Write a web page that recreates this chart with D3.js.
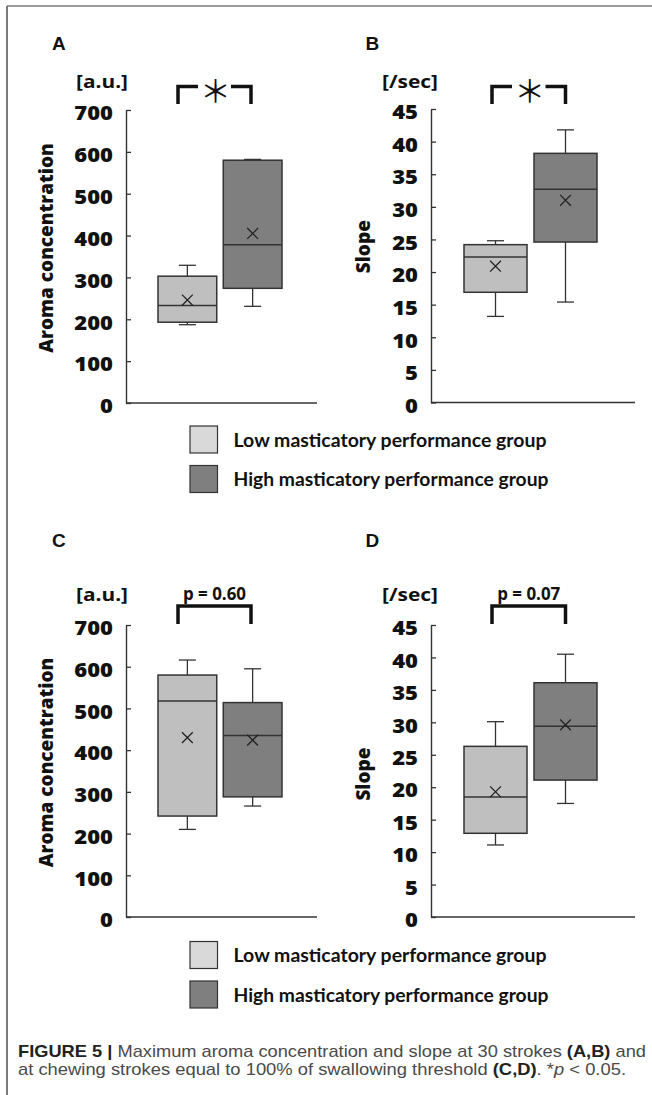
<!DOCTYPE html>
<html>
<head>
<meta charset="utf-8">
<script src="https://cdn.jsdelivr.net/npm/d3@7/dist/d3.min.js"></script>
<style>
  html, body { margin: 0; padding: 0; background: #fff; }
  svg { display: block; }
</style>
</head>
<body>
<svg id="fig" width="652" height="1095"></svg>
<script>
// ---------------- DATA ----------------
const groups = ["Low", "High"];
const legendLabels = ["Low masticatory performance group", "High masticatory performance group"];
const aromaTicks = [0, 100, 200, 300, 400, 500, 600, 700];
const slopeTicks = [0, 5, 10, 15, 20, 25, 30, 35, 40, 45];

// box statistics per group: [min, q1, median, q3, max, mean]
const aroma30Low   = [187, 193, 233, 303, 329, 246];
const aroma30High  = [231, 274, 378, 580, 582, 405];
const slope30Low   = [13.2, 16.9, 22.3, 24.2, 24.8, 20.9];
const slope30High  = [15.4, 24.6, 32.7, 38.2, 41.8, 31.0];
const aromaSTLow   = [210, 242, 518, 580, 616, 430];
const aromaSTHigh  = [266, 288, 435, 514, 595, 424];
const slopeSTLow   = [11.1, 12.9, 18.5, 26.3, 30.1, 19.3];
const slopeSTHigh  = [17.5, 21.1, 29.4, 36.1, 40.5, 29.6];

const panelLetters = ["A", "B", "C", "D"];
const units = ["[a.u.]", "[/sec]", "[a.u.]", "[/sec]"];
const axisTitles = ["Aroma concentration", "Slope", "Aroma concentration", "Slope"];
const sigLabels = ["*", "*", "p = 0.60", "p = 0.07"];

// ---------------- STYLE / LAYOUT ----------------
const fillLow = "#bfbfbf", fillHigh = "#7f7f7f";
const legendFillLow = "#d9d9d9", legendFillHigh = "#7f7f7f";
const ink = "#333";

const layouts = [
  { axisX: 126, axisR: 317, yTop: 110, yBot: 403, letter: [52, 50], unit: [76, 88, 52],
    title: [53, 248], band: [32, 156], br: [178, 251, 86.5, 104] },
  { axisX: 431, axisR: 635, yTop: 109, yBot: 402.5, letter: [365.5, 50], unit: [382, 88, 56],
    title: [370, 246.7], band: [33, 166], br: [492, 565.5, 86.5, 104] },
  { axisX: 126, axisR: 317, yTop: 625, yBot: 917, letter: [52, 547], unit: [76, 601, 52],
    title: [53, 762.5], band: [32, 156], br: [178, 251, 606, 624] },
  { axisX: 431, axisR: 635, yTop: 625, yBot: 917, letter: [365.5, 547], unit: [382, 601, 56],
    title: [370, 774], band: [33, 166], br: [492, 565.5, 606, 624] }
];

const panelData = [
  { stats: [aroma30Low, aroma30High], ticks: aromaTicks, star: true },
  { stats: [slope30Low, slope30High], ticks: slopeTicks, star: true },
  { stats: [aromaSTLow, aromaSTHigh], ticks: aromaTicks, star: false },
  { stats: [slopeSTLow, slopeSTHigh], ticks: slopeTicks, star: false }
];

const svg = d3.select("#fig");
svg.append("rect").attr("width", 652).attr("height", 1095).attr("fill", "#fff");

// frame
svg.append("line").attr("x1", 7).attr("x2", 652).attr("y1", 6).attr("y2", 6)
  .attr("stroke", "#7a7a7a").attr("stroke-width", 1.6);
svg.append("line").attr("x1", 7).attr("x2", 7).attr("y1", 6).attr("y2", 1095)
  .attr("stroke", "#7a7a7a").attr("stroke-width", 2);

const chartFont = "'Open Sans', 'Noto Sans', sans-serif";

panelData.forEach((pd, i) => {
  const L = layouts[i];
  const g = svg.append("g");
  const yMax = d3.max(pd.ticks);
  const y = d3.scaleLinear().domain([0, yMax]).range([L.yBot, L.yTop]);
  const x = d3.scaleBand().domain(groups)
    .range([L.axisX + L.band[0], L.axisX + L.band[1]]).paddingInner(0.1);
  const bw = x.bandwidth();
  const capW = 17;

  // panel letter
  g.append("text").attr("x", L.letter[0]).attr("y", L.letter[1])
    .attr("font-family", "'Liberation Sans', Arial, sans-serif").attr("font-weight", 700)
    .attr("font-size", 19).attr("fill", "#111").text(panelLetters[i]);

  // unit
  g.append("text").attr("x", L.unit[0]).attr("y", L.unit[1])
    .attr("font-family", chartFont).attr("font-weight", 700).attr("font-size", 17)
    .attr("fill", "#111").attr("textLength", L.unit[2]).attr("lengthAdjust", "spacingAndGlyphs")
    .text(units[i]);

  // axis title
  g.append("text").attr("transform", `translate(${L.title[0]},${L.title[1]}) rotate(-90)`)
    .attr("text-anchor", "middle").attr("font-family", chartFont).attr("font-weight", 800)
    .attr("font-size", 19).attr("fill", "#111").text(axisTitles[i]);

  // y axis
  const ax = g.append("g").attr("transform", `translate(${L.axisX},0)`)
    .call(d3.axisLeft(y).tickValues(pd.ticks).tickSizeInner(-5).tickSizeOuter(0).tickPadding(13));
  ax.select(".domain").attr("stroke", ink).attr("stroke-width", 1.4);
  ax.selectAll(".tick line").attr("stroke", ink).attr("stroke-width", 1.3);
  ax.selectAll(".tick text")
    .attr("font-family", chartFont).attr("font-weight", 800).attr("font-size", 19.5)
    .attr("fill", "#111").attr("dy", "0.5em")
    .attr("textLength", d => String(d).length * 12.9).attr("lengthAdjust", "spacingAndGlyphs");

  // x axis baseline
  g.append("line").attr("x1", L.axisX).attr("x2", L.axisR).attr("y1", y(0)).attr("y2", y(0))
    .attr("stroke", ink).attr("stroke-width", 1.4);

  // boxes
  groups.forEach((grp, j) => {
    const s = pd.stats[j];
    const [mn, q1, med, q3, mx, mean] = s;
    const cx = x(grp) + bw / 2;
    const bg = g.append("g");
    // whiskers
    bg.append("line").attr("x1", cx).attr("x2", cx).attr("y1", y(mx)).attr("y2", y(q3))
      .attr("stroke", ink).attr("stroke-width", 1.3);
    bg.append("line").attr("x1", cx).attr("x2", cx).attr("y1", y(q1)).attr("y2", y(mn))
      .attr("stroke", ink).attr("stroke-width", 1.3);
    [mn, mx].forEach(v => {
      bg.append("line").attr("x1", cx - capW / 2).attr("x2", cx + capW / 2)
        .attr("y1", y(v)).attr("y2", y(v)).attr("stroke", ink).attr("stroke-width", 1.3);
    });
    // box
    bg.append("rect").attr("x", x(grp)).attr("width", bw)
      .attr("y", y(q3)).attr("height", y(q1) - y(q3))
      .attr("fill", j === 0 ? fillLow : fillHigh).attr("stroke", ink).attr("stroke-width", 1.5);
    // median
    bg.append("line").attr("x1", x(grp)).attr("x2", x(grp) + bw).attr("y1", y(med)).attr("y2", y(med))
      .attr("stroke", ink).attr("stroke-width", 1.5);
    // mean marker
    const m = 5.4, my = y(mean);
    bg.append("path").attr("d", `M${cx - m},${my - m}L${cx + m},${my + m}M${cx - m},${my + m}L${cx + m},${my - m}`)
      .attr("stroke", "#222").attr("stroke-width", 1.3).attr("fill", "none");
  });

  // significance bracket
  const [bl, brx, bt, bb] = L.br;
  if (pd.star) {
    g.append("path")
      .attr("d", `M${bl},${bb}V${bt}H${bl + 20}M${brx - 20},${bt}H${brx}V${bb}`)
      .attr("stroke", "#111").attr("stroke-width", 3.5).attr("fill", "none");
    g.append("text").attr("x", (bl + brx) / 2 + 1).attr("y", bt + 15)
      .attr("text-anchor", "middle").attr("font-family", "'Noto Sans CJK JP', sans-serif")
      .attr("font-size", 31).attr("fill", "#111").text("＊");
  } else {
    g.append("path")
      .attr("d", `M${bl},${bb}V${bt}H${brx}V${bb}`)
      .attr("stroke", "#111").attr("stroke-width", 3.5).attr("fill", "none");
    g.append("text").attr("x", (bl + brx) / 2).attr("y", bt - 6)
      .attr("text-anchor", "middle").attr("font-family", chartFont).attr("font-weight", 700)
      .attr("font-size", 18).attr("fill", "#111")
      .attr("textLength", 63).attr("lengthAdjust", "spacingAndGlyphs").text(sigLabels[i]);
  }
});

// legends
const legendTops = [426, 941.5];
legendTops.forEach(top => {
  const lg = svg.append("g");
  legendLabels.forEach((lab, j) => {
    const yy = top + j * 39.5;
    lg.append("rect").attr("x", 190).attr("y", yy).attr("width", 27.5).attr("height", 27)
      .attr("fill", j === 0 ? legendFillLow : legendFillHigh).attr("stroke", "#333").attr("stroke-width", 1.2);
    lg.append("text").attr("x", 233.5).attr("y", yy + 20.5)
      .attr("font-family", "Lato, 'Open Sans', sans-serif").attr("font-weight", 700)
      .attr("font-size", 19).attr("fill", "#111")
      .attr("textLength", j === 0 ? 313 : 315).attr("lengthAdjust", "spacingAndGlyphs")
      .text(lab);
  });
});

// caption
const cap = svg.append("g").attr("font-family", "'Liberation Sans', Arial, sans-serif").attr("font-size", 17);
const l1 = cap.append("text").attr("x", 18).attr("y", 1056.5).attr("fill", "#4a4a4a")
  .attr("textLength", 628).attr("lengthAdjust", "spacingAndGlyphs");
l1.append("tspan").attr("font-weight", 700).attr("fill", "#222").text("FIGURE 5 | ");
l1.append("tspan").text("Maximum aroma concentration and slope at 30 strokes ");
l1.append("tspan").attr("font-weight", 700).attr("fill", "#222").text("(A,B)");
l1.append("tspan").text(" and");
const l2 = cap.append("text").attr("x", 18).attr("y", 1075).attr("fill", "#4a4a4a")
  .attr("textLength", 608).attr("lengthAdjust", "spacingAndGlyphs");
l2.append("tspan").text("at chewing strokes equal to 100% of swallowing threshold ");
l2.append("tspan").attr("font-weight", 700).attr("fill", "#222").text("(C,D)");
l2.append("tspan").text(". *");
l2.append("tspan").attr("font-style", "italic").text("p");
l2.append("tspan").text(" < 0.05.");
</script>
</body>
</html>
